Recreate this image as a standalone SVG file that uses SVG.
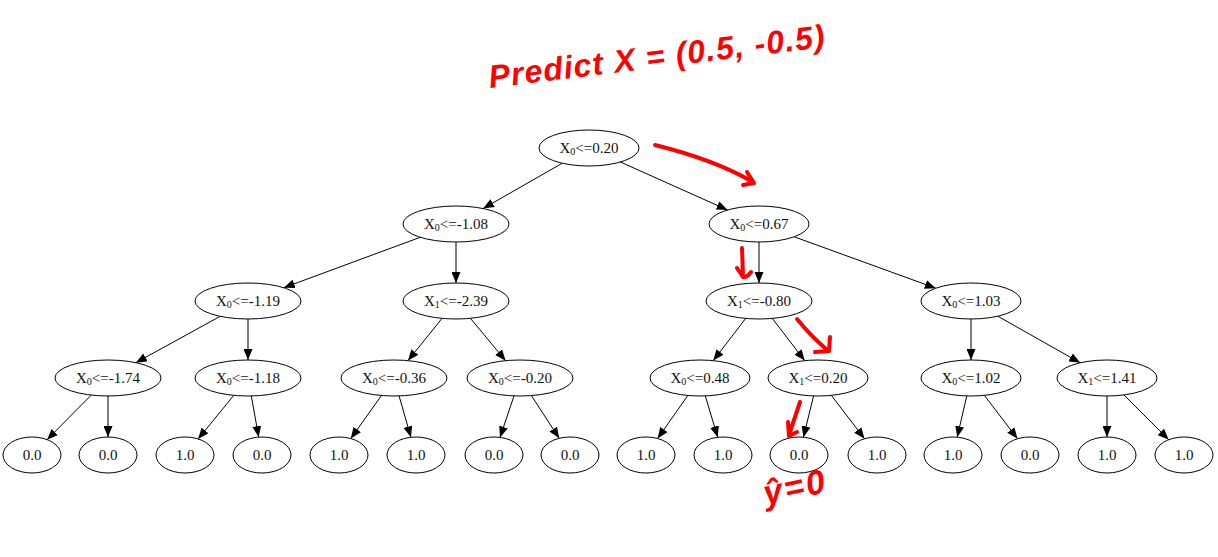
<svg xmlns="http://www.w3.org/2000/svg" width="1218" height="557" viewBox="0 0 1218 557">
<style>
.n ellipse{fill:#fff;stroke:#000;stroke-width:1}
.n text{font-family:"Liberation Serif","Times New Roman",serif;font-size:15px;fill:#111;text-anchor:middle}
.sub{font-size:10px}
#edges line{stroke:#000;stroke-width:1;marker-end:url(#ah)}
.red{fill:none;stroke:#ff0000;stroke-width:4;stroke-linecap:round;stroke-linejoin:round}
.rt{font-family:"Liberation Sans","DejaVu Sans",sans-serif;fill:#ff0000;font-style:italic;font-weight:bold}
</style>
<defs>
<marker id="ah" markerUnits="userSpaceOnUse" markerWidth="11" markerHeight="9" viewBox="0 0 11 9" refX="11" refY="4.5" orient="auto">
<path d="M0,0 L11,4.5 L0,9 z" fill="#000"/>
</marker>
</defs>
<rect width="1218" height="557" fill="#fff"/>
<g id="edges">
<line x1="562.3" y1="163.2" x2="483.1" y2="208.5"/>
<line x1="620.4" y1="162" x2="727.6" y2="210"/>
<line x1="420.2" y1="237.3" x2="283.8" y2="287.7"/>
<line x1="456" y1="242" x2="456" y2="283"/>
<line x1="759" y1="242" x2="759" y2="283"/>
<line x1="794.2" y1="236.8" x2="935.8" y2="288.2"/>
<line x1="220.2" y1="316.3" x2="135.8" y2="362.7"/>
<line x1="248" y1="319" x2="248" y2="360"/>
<line x1="442" y1="318.4" x2="408" y2="360.6"/>
<line x1="470.4" y1="318.3" x2="505.6" y2="360.7"/>
<line x1="745.7" y1="318.4" x2="713.3" y2="360.6"/>
<line x1="772.3" y1="318.4" x2="804.7" y2="360.6"/>
<line x1="971" y1="319" x2="971" y2="360"/>
<line x1="997.8" y1="316.2" x2="1080.2" y2="362.8"/>
<line x1="91.2" y1="395.1" x2="47.1" y2="439.7"/>
<line x1="108" y1="396" x2="108" y2="437"/>
<line x1="233.8" y1="395.3" x2="198.1" y2="439"/>
<line x1="251.3" y1="396" x2="258.7" y2="437.1"/>
<line x1="381.5" y1="395.5" x2="350.8" y2="438.5"/>
<line x1="399.1" y1="395.9" x2="410.9" y2="437.3"/>
<line x1="514" y1="395.9" x2="500" y2="437.4"/>
<line x1="531.4" y1="395.6" x2="559.2" y2="438.3"/>
<line x1="687.8" y1="395.5" x2="657.6" y2="438.5"/>
<line x1="705.3" y1="395.9" x2="717.7" y2="437.3"/>
<line x1="813.6" y1="395.9" x2="803.4" y2="437.2"/>
<line x1="831.3" y1="395.3" x2="864.5" y2="438.7"/>
<line x1="966.8" y1="395.9" x2="957.2" y2="437.2"/>
<line x1="984.3" y1="395.3" x2="1017.5" y2="438.7"/>
<line x1="1107" y1="396" x2="1107" y2="437"/>
<line x1="1123.9" y1="394.9" x2="1168.7" y2="439.7"/>
</g>
<g id="nR" class="n"><ellipse cx="589" cy="148" rx="50" ry="18"/><text x="589" y="153">X<tspan class="sub" dy="2">0</tspan><tspan dy="-2">&lt;=0.20</tspan></text></g>
<g id="nA" class="n"><ellipse cx="456" cy="224" rx="53" ry="18"/><text x="456" y="229">X<tspan class="sub" dy="2">0</tspan><tspan dy="-2">&lt;=-1.08</tspan></text></g>
<g id="nB" class="n"><ellipse cx="759" cy="224" rx="50" ry="18"/><text x="759" y="229">X<tspan class="sub" dy="2">0</tspan><tspan dy="-2">&lt;=0.67</tspan></text></g>
<g id="nC" class="n"><ellipse cx="248" cy="301" rx="53" ry="18"/><text x="248" y="306">X<tspan class="sub" dy="2">0</tspan><tspan dy="-2">&lt;=-1.19</tspan></text></g>
<g id="nD" class="n"><ellipse cx="456" cy="301" rx="53" ry="18"/><text x="456" y="306">X<tspan class="sub" dy="2">1</tspan><tspan dy="-2">&lt;=-2.39</tspan></text></g>
<g id="nE" class="n"><ellipse cx="759" cy="301" rx="53" ry="18"/><text x="759" y="306">X<tspan class="sub" dy="2">1</tspan><tspan dy="-2">&lt;=-0.80</tspan></text></g>
<g id="nF" class="n"><ellipse cx="971" cy="301" rx="50" ry="18"/><text x="971" y="306">X<tspan class="sub" dy="2">0</tspan><tspan dy="-2">&lt;=1.03</tspan></text></g>
<g id="nG" class="n"><ellipse cx="108" cy="378" rx="53" ry="18"/><text x="108" y="383">X<tspan class="sub" dy="2">0</tspan><tspan dy="-2">&lt;=-1.74</tspan></text></g>
<g id="nH" class="n"><ellipse cx="248" cy="378" rx="53" ry="18"/><text x="248" y="383">X<tspan class="sub" dy="2">0</tspan><tspan dy="-2">&lt;=-1.18</tspan></text></g>
<g id="nI" class="n"><ellipse cx="394" cy="378" rx="53" ry="18"/><text x="394" y="383">X<tspan class="sub" dy="2">0</tspan><tspan dy="-2">&lt;=-0.36</tspan></text></g>
<g id="nJ" class="n"><ellipse cx="520" cy="378" rx="53" ry="18"/><text x="520" y="383">X<tspan class="sub" dy="2">0</tspan><tspan dy="-2">&lt;=-0.20</tspan></text></g>
<g id="nK" class="n"><ellipse cx="700" cy="378" rx="50" ry="18"/><text x="700" y="383">X<tspan class="sub" dy="2">0</tspan><tspan dy="-2">&lt;=0.48</tspan></text></g>
<g id="nL" class="n"><ellipse cx="818" cy="378" rx="50" ry="18"/><text x="818" y="383">X<tspan class="sub" dy="2">1</tspan><tspan dy="-2">&lt;=0.20</tspan></text></g>
<g id="nM" class="n"><ellipse cx="971" cy="378" rx="50" ry="18"/><text x="971" y="383">X<tspan class="sub" dy="2">0</tspan><tspan dy="-2">&lt;=1.02</tspan></text></g>
<g id="nN" class="n"><ellipse cx="1107" cy="378" rx="50" ry="18"/><text x="1107" y="383">X<tspan class="sub" dy="2">1</tspan><tspan dy="-2">&lt;=1.41</tspan></text></g>
<g id="l1" class="n"><ellipse cx="32" cy="455" rx="29" ry="18"/><text x="32" y="460">0.0</text></g>
<g id="l2" class="n"><ellipse cx="108" cy="455" rx="29" ry="18"/><text x="108" y="460">0.0</text></g>
<g id="l3" class="n"><ellipse cx="185" cy="455" rx="29" ry="18"/><text x="185" y="460">1.0</text></g>
<g id="l4" class="n"><ellipse cx="262" cy="455" rx="29" ry="18"/><text x="262" y="460">0.0</text></g>
<g id="l5" class="n"><ellipse cx="339" cy="455" rx="29" ry="18"/><text x="339" y="460">1.0</text></g>
<g id="l6" class="n"><ellipse cx="416" cy="455" rx="29" ry="18"/><text x="416" y="460">1.0</text></g>
<g id="l7" class="n"><ellipse cx="494" cy="455" rx="29" ry="18"/><text x="494" y="460">0.0</text></g>
<g id="l8" class="n"><ellipse cx="570" cy="455" rx="29" ry="18"/><text x="570" y="460">0.0</text></g>
<g id="l9" class="n"><ellipse cx="646" cy="455" rx="29" ry="18"/><text x="646" y="460">1.0</text></g>
<g id="l10" class="n"><ellipse cx="723" cy="455" rx="29" ry="18"/><text x="723" y="460">1.0</text></g>
<g id="l11" class="n"><ellipse cx="799" cy="455" rx="29" ry="18"/><text x="799" y="460">0.0</text></g>
<g id="l12" class="n"><ellipse cx="877" cy="455" rx="29" ry="18"/><text x="877" y="460">1.0</text></g>
<g id="l13" class="n"><ellipse cx="953" cy="455" rx="29" ry="18"/><text x="953" y="460">1.0</text></g>
<g id="l14" class="n"><ellipse cx="1030" cy="455" rx="29" ry="18"/><text x="1030" y="460">0.0</text></g>
<g id="l15" class="n"><ellipse cx="1107" cy="455" rx="29" ry="18"/><text x="1107" y="460">1.0</text></g>
<g id="l16" class="n"><ellipse cx="1184" cy="455" rx="29" ry="18"/><text x="1184" y="460">1.0</text></g>
<g id="annotations">
<text class="rt" x="490" y="88" font-size="32" textLength="338" lengthAdjust="spacing" transform="rotate(-7 490 88)">Predict X = (0.5, -0.5)</text>
<path class="red" d="M655,145 Q715,160 751,181 M747,172 L754,183 L743,185"/>
<path class="red" d="M742,248 L743,276 Q746,279 751,272 M737,268 L743,277"/>
<path class="red" d="M797,319 Q810,335 826,349 M830,337 L829,351 L815,352"/>
<path class="red" d="M800,402 L789,435 M788,422 L789,436 L797,432"/>
<text class="rt" x="766" y="505" font-size="34" textLength="62" lengthAdjust="spacing" transform="rotate(-12 766 505)">ŷ=0</text>
</g>
</svg>
